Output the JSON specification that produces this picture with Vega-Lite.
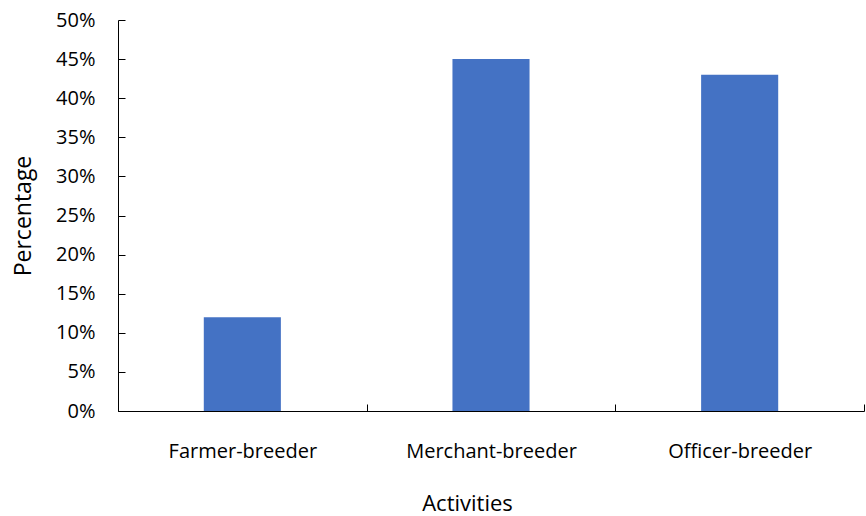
{
  "$schema": "https://vega.github.io/schema/vega-lite/v6.json",
  "autosize": "none",
  "width": 746,
  "height": 391,
  "padding": {"left": 118, "top": 20, "right": 2, "bottom": 105},
  "background": "white",
  "config": {"view": {"stroke": null}, "font": "Open Sans"},
  "data": {"values": [
    {"activity": "Farmer-breeder", "pct": 0.12},
    {"activity": "Merchant-breeder", "pct": 0.45},
    {"activity": "Officer-breeder", "pct": 0.43}
  ]},
  "mark": {"type": "bar", "color": "#4472C4", "width": {"band": 0.31}},
  "encoding": {
    "x": {"field": "activity", "type": "nominal", "sort": null,
      "scale": {"paddingInner": 0, "paddingOuter": 0},
      "axis": {"title": "Activities", "labelAngle": 0, "ticks": true, "tickBand": "extent", "tickSize": -7,
        "domainColor": "black", "tickColor": "black", "labelColor": "black", "labelFontSize": 20,
        "labelPadding": 37, "titleFontSize": 22, "titleFontWeight": "normal", "titleColor": "black", "titlePadding": 32, "titleX": 349}},
    "y": {"field": "pct", "type": "quantitative",
      "scale": {"domain": [0, 0.5]},
      "axis": {"title": "Percentage", "format": ".0%", "values": [0,0.05,0.1,0.15,0.2,0.25,0.3,0.35,0.4,0.45,0.5], "grid": false, "tickSize": -7,
        "domainColor": "black", "tickColor": "black", "labelColor": "black", "labelFontSize": 20,
        "labelPadding": 30, "titleFontSize": 23, "titleFontWeight": "normal", "titleColor": "black", "titlePadding": 20}}
  }
}
